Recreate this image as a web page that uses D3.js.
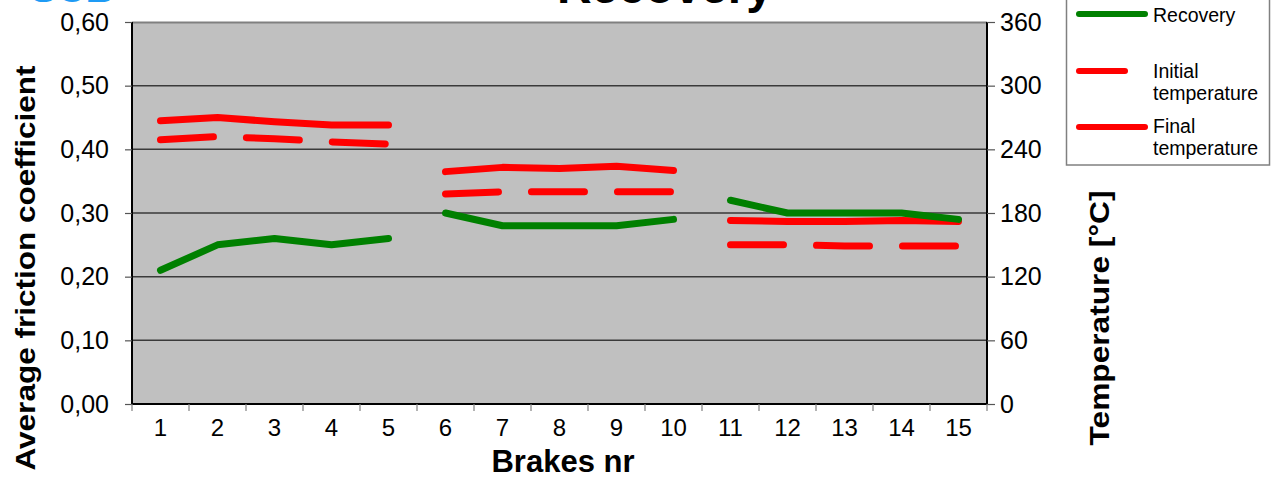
<!DOCTYPE html>
<html>
<head>
<meta charset="utf-8">
<script src="https://cdn.jsdelivr.net/npm/d3@7"></script>
<style>
  body { margin: 0; background: #fff; }
  svg { display: block; font-family: Arial, "Liberation Sans", sans-serif; }
</style>
</head>
<body>
<div id="chart"></div>
<script>
var width = 1274, height = 478;
var margin = {top: 22, right: 287, bottom: 74, left: 132};
var plotW = width - margin.left - margin.right,
    plotH = height - margin.top - margin.bottom;

// data
var brakes = ["1","2","3","4","5","6","7","8","9","10","11","12","13","14","15"];
var runs = [[0, 4], [5, 9], [10, 14]];   // the three series of brakes, not joined
var recovery = [0.21, 0.25, 0.26, 0.25, 0.26, 0.30, 0.28, 0.28, 0.28, 0.29, 0.32, 0.30, 0.30, 0.30, 0.29];
var initialTemp = [249, 252, 250, 247, 245, 198, 200, 200, 200, 200, 150, 150, 149, 149, 149];
var finalTemp = [267, 270, 266, 263, 263, 219, 223, 222, 224, 220, 173, 172, 172, 173, 172];
var leftTicks = [0, 0.1, 0.2, 0.3, 0.4, 0.5, 0.6];
var rightTicks = [0, 60, 120, 180, 240, 300, 360];

var svg = d3.select("#chart")
            .append("svg")
                .attr("width", width)
                .attr("height", height);

var g = svg.append("g")
            .attr("transform", "translate(" + margin.left + "," + margin.top + ")");

var xScale = d3.scaleBand()
                .domain(brakes)
                .range([0, plotW]);

var yLeft = d3.scaleLinear().domain([0, 0.6]).range([plotH, 0]);
var yRight = d3.scaleLinear().domain([0, 360]).range([plotH, 0]);

var fmt = function(d) { return d3.format(".2f")(d).replace(".", ","); };

// plot background
g.append("rect")
    .attr("width", plotW)
    .attr("height", plotH)
    .attr("fill", "#c0c0c0");

// gridlines
g.append("g")
    .selectAll("line")
    .data(leftTicks.slice(1, -1))
    .enter()
    .append("line")
        .attr("x1", 0).attr("x2", plotW)
        .attr("y1", function(d) { return yLeft(d); })
        .attr("y2", function(d) { return yLeft(d); })
        .attr("stroke", "#3a3a3a")
        .attr("stroke-width", 1.5);

// top border
g.append("line")
    .attr("x1", 0).attr("x2", plotW).attr("y1", 0.5).attr("y2", 0.5)
    .attr("stroke", "#808080").attr("stroke-width", 2);

// left axis
var leftAxis = g.append("g")
    .call(d3.axisLeft(yLeft).tickValues(leftTicks).tickFormat(fmt).tickSize(7).tickPadding(16));

// right axis
var rightAxis = g.append("g")
    .attr("transform", "translate(" + plotW + ",0)")
    .call(d3.axisRight(yRight).tickValues(rightTicks).tickSize(8).tickPadding(5));

// bottom axis, ticks between categories
var xAxis = g.append("g")
    .attr("transform", "translate(0," + plotH + ")")
    .call(d3.axisBottom(xScale).tickSize(0).tickPadding(15));

g.append("g")
    .attr("transform", "translate(0," + plotH + ")")
    .selectAll("line")
    .data(d3.range(brakes.length + 1))
    .enter()
    .append("line")
        .attr("x1", function(i) { return i * xScale.step(); })
        .attr("x2", function(i) { return i * xScale.step(); })
        .attr("y1", 0).attr("y2", 7)
        .attr("stroke", "#808080").attr("stroke-width", 1.2);

[leftAxis, rightAxis, xAxis].forEach(function(ax) {
    ax.select(".domain").attr("stroke", "#000").attr("stroke-width", 2);
    ax.selectAll(".tick line").attr("stroke", "#555").attr("stroke-width", 1.2);
    ax.selectAll("text").attr("font-size", 25).attr("fill", "#000")
        .attr("font-family", "Arial, 'Liberation Sans', sans-serif");
});
xAxis.selectAll("text").attr("font-size", 24);
xAxis.select(".domain").attr("d", "M0,0H" + plotW);
leftAxis.select(".domain").attr("d", "M0," + plotH + "V0");
rightAxis.select(".domain").attr("d", "M0," + plotH + "V0");

// lines
function xPos(i) { return xScale(brakes[i]) + xScale.bandwidth() / 2; }

function drawSeries(values, yScale, color, dash) {
    runs.forEach(function(r) {
        var idx = d3.range(r[0], r[1] + 1);
        var line = d3.line()
            .x(function(i) { return xPos(i); })
            .y(function(i) { return yScale(values[i]); });
        g.append("path")
            .datum(idx)
            .attr("d", line)
            .attr("fill", "none")
            .attr("stroke", color)
            .attr("stroke-width", 7)
            .attr("stroke-linecap", "round")
            .attr("stroke-linejoin", "round")
            .attr("stroke-dasharray", dash);
    });
}

drawSeries(initialTemp, yRight, "#ff0000", "53,33");
drawSeries(finalTemp, yRight, "#ff0000", null);
drawSeries(recovery, yLeft, "#008000", null);

// axis titles
svg.append("text")
    .attr("transform", "translate(35,268) rotate(-90)")
    .attr("text-anchor", "middle")
    .attr("font-size", 28).attr("font-weight", "bold")
    .attr("textLength", 405).attr("lengthAdjust", "spacingAndGlyphs")
    .text("Average friction coefficient");

svg.append("text")
    .attr("transform", "translate(1109,318) rotate(-90)")
    .attr("text-anchor", "middle")
    .attr("font-size", 28).attr("font-weight", "bold")
    .attr("textLength", 255).attr("lengthAdjust", "spacingAndGlyphs")
    .text("Temperature [°C]");

svg.append("text")
    .attr("x", 563).attr("y", 472)
    .attr("text-anchor", "middle")
    .attr("font-size", 31).attr("font-weight", "bold")
    .text("Brakes nr");

// title (cut off at the top)
svg.append("text")
    .attr("x", 665).attr("y", 3)
    .attr("text-anchor", "middle")
    .attr("font-size", 48).attr("font-weight", "bold")
    .text("Recovery");

svg.append("text")
    .attr("x", 30).attr("y", 2)
    .attr("font-size", 40).attr("font-weight", "bold")
    .attr("fill", "#1e9bf5")
    .text("SCB");

// legend
var legend = svg.append("g").attr("transform", "translate(1066,0)");
legend.append("rect")
    .attr("x", 0.5).attr("y", -10).attr("width", 203).attr("height", 175)
    .attr("fill", "#fff").attr("stroke", "#808080").attr("stroke-width", 1.5);

var legendItems = [
    {label: ["Recovery"], color: "#008000", len: 72, y: 14, base: 22},
    {label: ["Initial", "temperature"], color: "#ff0000", len: 52, y: 71, base: 78},
    {label: ["Final", "temperature"], color: "#ff0000", len: 72, y: 127, base: 133}
];
legendItems.forEach(function(d) {
    legend.append("line")
        .attr("x1", 13).attr("x2", 13 + d.len - 6)
        .attr("y1", d.y).attr("y2", d.y)
        .attr("stroke", d.color).attr("stroke-width", 6)
        .attr("stroke-linecap", "round");
    var t = legend.append("text")
        .attr("x", 87).attr("y", d.base)
        .attr("font-size", 19.5);
    d.label.forEach(function(s, k) {
        t.append("tspan").attr("x", 87).attr("dy", k === 0 ? 0 : 21.5).text(s);
    });
});
</script>
</body>
</html>
